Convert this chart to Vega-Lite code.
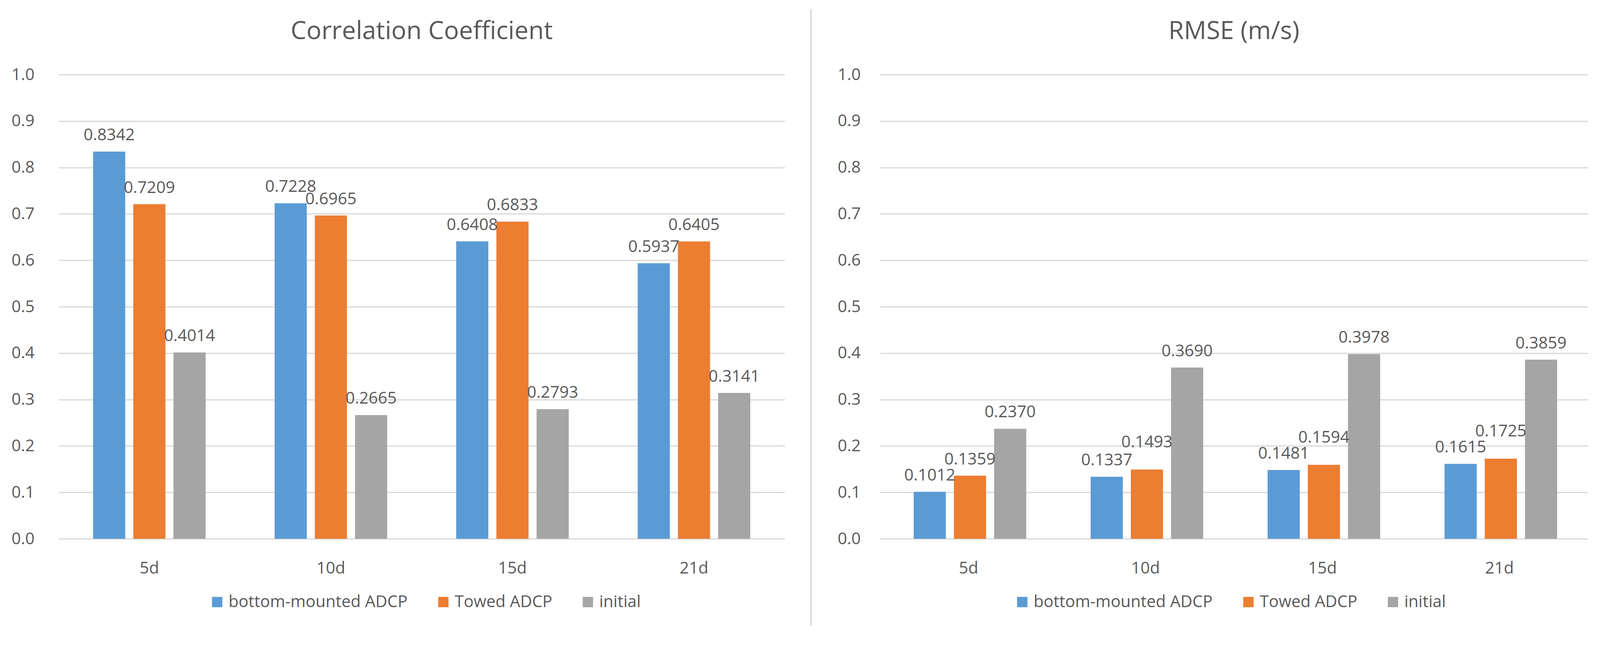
{
  "$schema": "https://vega.github.io/schema/vega-lite/v6.json",
  "background": "white",
  "padding": {"left": 28, "top": 21, "right": 30, "bottom": 20},
  "config": {
    "font": "Open Sans",
    "view": {"stroke": null},
    "concat": {"spacing": 65},
    "axis": {"labelFont": "Open Sans", "labelColor": "#595959", "labelFontSize": 42},
    "legend": {"labelFont": "Open Sans", "labelColor": "#595959", "labelFontSize": 42, "labelLimit": 0}
  },
  "datasets": {
    "cc": [
      {"period": "5d", "series": "bottom-mounted ADCP", "value": 0.8342},
      {"period": "5d", "series": "Towed ADCP", "value": 0.7209},
      {"period": "5d", "series": "initial", "value": 0.4014},
      {"period": "10d", "series": "bottom-mounted ADCP", "value": 0.7228},
      {"period": "10d", "series": "Towed ADCP", "value": 0.6965},
      {"period": "10d", "series": "initial", "value": 0.2665},
      {"period": "15d", "series": "bottom-mounted ADCP", "value": 0.6408},
      {"period": "15d", "series": "Towed ADCP", "value": 0.6833},
      {"period": "15d", "series": "initial", "value": 0.2793},
      {"period": "21d", "series": "bottom-mounted ADCP", "value": 0.5937},
      {"period": "21d", "series": "Towed ADCP", "value": 0.6405},
      {"period": "21d", "series": "initial", "value": 0.3141}
    ],
    "rmse": [
      {"period": "5d", "series": "bottom-mounted ADCP", "value": 0.1012},
      {"period": "5d", "series": "Towed ADCP", "value": 0.1359},
      {"period": "5d", "series": "initial", "value": 0.2370},
      {"period": "10d", "series": "bottom-mounted ADCP", "value": 0.1337},
      {"period": "10d", "series": "Towed ADCP", "value": 0.1493},
      {"period": "10d", "series": "initial", "value": 0.3690},
      {"period": "15d", "series": "bottom-mounted ADCP", "value": 0.1481},
      {"period": "15d", "series": "Towed ADCP", "value": 0.1594},
      {"period": "15d", "series": "initial", "value": 0.3978},
      {"period": "21d", "series": "bottom-mounted ADCP", "value": 0.1615},
      {"period": "21d", "series": "Towed ADCP", "value": 0.1725},
      {"period": "21d", "series": "initial", "value": 0.3859}
    ],
    "sep": [{"a": 0}]
  },
  "hconcat": [
    {
      "data": {"name": "cc"},
      "width": 1859,
      "height": 1188,
      "title": {"text": "Correlation Coefficient", "fontSize": 64, "fontWeight": "normal", "color": "#595959", "offset": 57, "font": "Open Sans"},
      "encoding": {
        "x": {"field": "period", "type": "nominal", "sort": ["5d", "10d", "15d", "21d"],
              "scale": {"paddingInner": 0.38, "paddingOuter": 0.19},
              "axis": {"title": null, "labelAngle": 0, "ticks": false, "domainColor": "#d9d9d9", "domainWidth": 3, "labelPadding": 55}},
        "xOffset": {"field": "series", "type": "nominal", "sort": ["bottom-mounted ADCP", "Towed ADCP", "initial"],
                    "scale": {"paddingInner": 0.2, "paddingOuter": 0}},
        "y": {"field": "value", "type": "quantitative", "scale": {"domain": [0, 1]},
              "axis": {"title": null, "format": ".1f", "tickCount": 10, "domain": false, "ticks": false, "gridColor": "#d9d9d9", "gridWidth": 3, "labelPadding": 62}}
      },
      "layer": [
        {"mark": {"type": "bar"},
         "encoding": {"color": {"field": "series", "type": "nominal",
           "scale": {"domain": ["bottom-mounted ADCP", "Towed ADCP", "initial"], "range": ["#5B9BD5", "#ED7D31", "#A5A5A5"]},
           "legend": {"title": null, "orient": "none", "legendX": 385, "legendY": 1329, "direction": "horizontal", "symbolType": "square", "symbolSize": 700, "symbolStrokeWidth": 0, "columnPadding": 70, "labelOffset": 8}}}},
        {"mark": {"type": "text", "dy": -42, "fontSize": 42, "color": "#595959", "font": "Open Sans"},
         "encoding": {"text": {"field": "value", "type": "quantitative", "format": ".4f"}}}
      ]
    },
    {
      "data": {"name": "sep"},
      "width": 1,
      "height": 1188,
      "mark": {"type": "rule", "color": "#d9d9d9", "strokeWidth": 4},
      "encoding": {
        "y": {"datum": -0.187, "type": "quantitative", "scale": {"domain": [0, 1]}, "axis": null},
        "y2": {"datum": 1.1406},
        "x": {"datum": 0, "type": "quantitative", "scale": {"domain": [0, 1]}, "axis": null}
      }
    },
    {
      "data": {"name": "rmse"},
      "width": 1812,
      "height": 1188,
      "title": {"text": "RMSE (m/s)", "fontSize": 64, "fontWeight": "normal", "color": "#595959", "offset": 57, "font": "Open Sans"},
      "encoding": {
        "x": {"field": "period", "type": "nominal", "sort": ["5d", "10d", "15d", "21d"],
              "scale": {"paddingInner": 0.38, "paddingOuter": 0.19},
              "axis": {"title": null, "labelAngle": 0, "ticks": false, "domainColor": "#d9d9d9", "domainWidth": 3, "labelPadding": 55}},
        "xOffset": {"field": "series", "type": "nominal", "sort": ["bottom-mounted ADCP", "Towed ADCP", "initial"],
                    "scale": {"paddingInner": 0.2, "paddingOuter": 0}},
        "y": {"field": "value", "type": "quantitative", "scale": {"domain": [0, 1]},
              "axis": {"title": null, "format": ".1f", "tickCount": 10, "domain": false, "ticks": false, "gridColor": "#d9d9d9", "gridWidth": 3, "labelPadding": 50}}
      },
      "layer": [
        {"mark": {"type": "bar"},
         "encoding": {"color": {"field": "series", "type": "nominal",
           "scale": {"domain": ["bottom-mounted ADCP", "Towed ADCP", "initial"], "range": ["#5B9BD5", "#ED7D31", "#A5A5A5"]},
           "legend": {"title": null, "orient": "none", "legendX": 343, "legendY": 1329, "direction": "horizontal", "symbolType": "square", "symbolSize": 700, "symbolStrokeWidth": 0, "columnPadding": 70, "labelOffset": 8}}}},
        {"transform": [{"filter": "datum.series !== 'Towed ADCP' || datum.period === '5d'"}],
         "mark": {"type": "text", "dy": -42, "fontSize": 42, "color": "#595959", "font": "Open Sans"},
         "encoding": {"text": {"field": "value", "type": "quantitative", "format": ".4f"}}},
        {"transform": [{"filter": "datum.series === 'Towed ADCP' && datum.period !== '5d'"}],
         "mark": {"type": "text", "dy": -70, "fontSize": 42, "color": "#595959", "font": "Open Sans"},
         "encoding": {"text": {"field": "value", "type": "quantitative", "format": ".4f"}}}
      ]
    }
  ],
  "resolve": {"scale": {"color": "independent", "x": "independent", "y": "independent"}, "legend": {"color": "independent"}}
}
